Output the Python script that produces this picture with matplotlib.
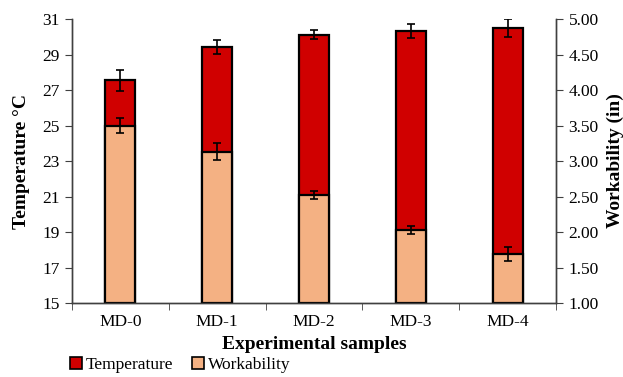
import matplotlib
matplotlib.use("Agg")
import matplotlib.pyplot as plt
import numpy as np
from matplotlib.patches import Patch

plt.rcParams['font.family'] = ['Liberation Serif', 'DejaVu Serif']

categories = ["MD-0", "MD-1", "MD-2", "MD-3", "MD-4"]
temperature = [27.55, 29.42, 30.12, 30.32, 30.51]
temperature_err = [0.60, 0.38, 0.25, 0.39, 0.50]
workability = [3.50, 3.13, 2.52, 2.03, 1.69]
workability_err = [0.10, 0.12, 0.06, 0.06, 0.10]
left_ticks = [15, 17, 19, 21, 23, 25, 27, 29, 31]
right_ticks = [1.0, 1.5, 2.0, 2.5, 3.0, 3.5, 4.0, 4.5, 5.0]

red = "#D00000"
peach = "#F4B183"

fig = plt.figure(figsize=(6.23, 3.77), dpi=100)
ax = fig.add_axes([0.1156, 0.196, 0.777, 0.7536])
ax2 = ax.twinx()

x = np.arange(len(categories))
w = 0.31
ax.bar(x, np.array(temperature) - 15, bottom=15, width=w, color=red,
       edgecolor='black', linewidth=1.6, zorder=2)
ax.errorbar(x, temperature, yerr=temperature_err, fmt='none', ecolor='black',
            elinewidth=1.2, capsize=3, capthick=1.2, zorder=3)
ax2.bar(x, np.array(workability) - 1, bottom=1, width=w, color=peach,
        edgecolor='black', linewidth=1.6, zorder=2)
ax2.errorbar(x, workability, yerr=workability_err, fmt='none', ecolor='black',
             elinewidth=1.2, capsize=3, capthick=1.2, zorder=3)

ax.set_xlim(-0.5, 4.5)
ax.set_ylim(15, 31)
ax2.set_ylim(1, 5)
ax.set_yticks(left_ticks)
ax.set_yticklabels([str(t) for t in left_ticks])
ax2.set_yticks(right_ticks)
ax2.set_yticklabels([f"{t:.2f}" for t in right_ticks])

ax.set_xticks(x)
ax.set_xticklabels(categories)
ax.set_xticks(np.arange(-0.5, 5.0, 1.0), minor=True)
ax.tick_params(axis='x', which='major', length=0, labelsize=12.5, pad=8)
ax.tick_params(axis='x', which='minor', length=5, direction='out', color='#404040')
ax.tick_params(axis='y', length=5, direction='out', labelsize=12.5, color='#404040', pad=4)
ax2.tick_params(axis='y', length=5, direction='out', labelsize=12.5, color='#404040', pad=4)

for a in (ax, ax2):
    a.spines['top'].set_visible(False)
    for s in ('left', 'right', 'bottom'):
        a.spines[s].set_color('#404040')
        a.spines[s].set_linewidth(1.0)

ax.set_ylabel("Temperature °C", fontsize=14, fontweight='bold', labelpad=9)
ax2.set_ylabel("Workability (in)", fontsize=14, fontweight='bold', labelpad=6)
ax.set_xlabel("Experimental samples", fontsize=14, fontweight='bold', labelpad=4)

handles = [Patch(facecolor=red, edgecolor='black', linewidth=1.2, label='Temperature'),
           Patch(facecolor=peach, edgecolor='black', linewidth=1.2, label='Workability')]
fig.legend(handles=handles, loc='center', bbox_to_anchor=(0.289, 0.032), ncol=2,
           frameon=False, fontsize=12.5, handlelength=0.7, handleheight=0.7,
           handletextpad=0.2, columnspacing=1.1, borderpad=0.1)

fig.savefig("out.png", dpi=100)
